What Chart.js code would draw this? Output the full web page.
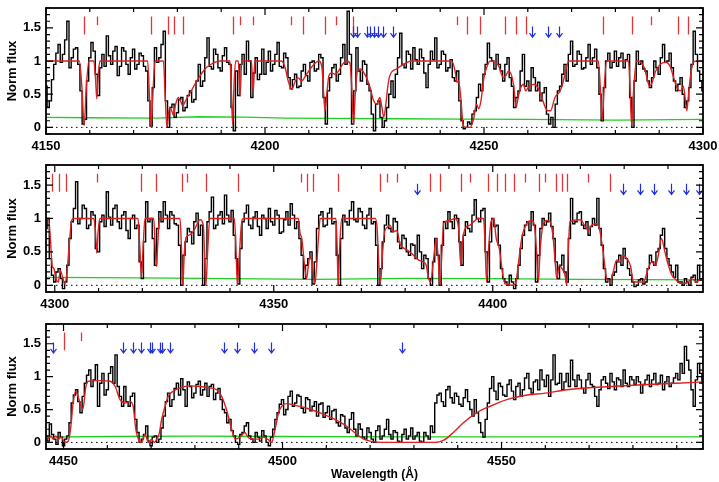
<!DOCTYPE html>
<html>
<head>
<meta charset="utf-8">
<script src="https://cdn.jsdelivr.net/npm/chart.js@4.4.1/dist/chart.umd.min.js"></script>
<style>
body { margin: 0; background: #fff; }
#wrap { position: relative; width: 719px; height: 482px; background: #fff; }
canvas { position: absolute; left: 0; }
</style>
</head>
<body>
<div id="wrap">
  <canvas id="p1" width="719" height="160" style="top:0px"></canvas>
  <canvas id="p2" width="719" height="160" style="top:160px"></canvas>
  <canvas id="p3" width="719" height="162" style="top:320px"></canvas>
</div>
<script>
// observed flux, one value per 0.5 A pixel, starting at waveStartN
var waveStep = 0.5;
var waveStart1 = 4150, waveStart2 = 4298, waveStart3 = 4446;
var flux1 = [
  0.62, 0.30, 0.40, 0.72, 0.95, 1.12, 1.25, 0.98, 1.10, 1.32,
  1.60, 0.90, 1.05, 1.18, 1.20, 0.95, 0.55, 0.05, 0.12, 0.70,
  1.05, 1.28, 1.15, 0.80, 0.48, 0.90, 1.10, 0.92, 1.38, 1.08,
  0.95, 1.15, 1.22, 0.78, 0.92, 1.20, 1.15, 0.95, 0.80, 1.05,
  1.18, 0.88, 0.95, 1.12, 1.08, 0.92, 0.85, 0.40, 0.02, 0.60,
  1.20, 0.98, 1.05, 1.25, 1.45, 0.40, 0.00, 0.30, 0.35, 0.15,
  0.22, 0.42, 0.45, 0.25, 0.30, 0.48, 0.55, 0.38, 0.42, 0.70,
  0.95, 0.62, 0.70, 1.05, 1.35, 0.92, 0.88, 1.18, 1.10, 0.90,
  0.85, 1.08, 1.20, 0.98, 0.95, 0.30, -0.05, 0.85, 0.48, 0.95,
  1.10, 0.80, 1.30, 1.00, 0.45, 0.82, 1.05, 0.72, 0.80, 1.18,
  0.80, 0.98, 1.15, 0.85, 0.95, 1.10, 1.28, 0.92, 0.90, 1.12,
  1.05, 0.75, 0.58, 0.72, 0.80, 0.60, 0.62, 0.85, 0.95, 0.78,
  0.70, 0.98, 1.00, 0.85, 0.88, 1.10, 1.05, 0.45, 0.05, 0.55,
  0.75, 0.90, 0.95, 0.70, 0.80, 1.05, 1.25, 0.95, 1.75, 1.10,
  0.05, 0.55, 1.20, 0.85, 0.70, 1.00, 0.95, 0.65, 0.55, 0.20,
  -0.05, 0.35, 0.40, 0.15, 0.00, 0.10, 0.30, 0.50, 0.70, 0.45,
  0.80, 1.05, 1.42, 0.95, 0.90, 1.15, 1.10, 0.88, 1.20, 1.02,
  0.95, 1.18, 1.05, 0.82, 0.60, 0.95, 1.15, 1.02, 1.35, 0.90,
  0.95, 1.15, 1.10, 0.85, 0.90, 1.02, 0.75, 0.70, 0.85, 0.40,
  0.10, -0.02, 0.00, 0.08, 0.05, 0.20, 0.25, 0.45, 0.65, 0.55,
  0.80, 0.95, 1.27, 1.05, 1.00, 0.88, 1.10, 0.95, 0.85, 0.70,
  0.95, 1.05, 0.75, 0.62, 0.30, 0.45, 0.55, 0.85, 1.10, 0.62,
  0.70, 0.55, 0.90, 0.75, 0.55, 0.68, 0.40, 0.52, 0.60, 0.20,
  0.05, 0.15, 0.00, 0.35, 0.55, 0.62, 0.80, 0.95, 0.70, 1.10,
  1.30, 0.92, 0.95, 1.15, 1.10, 0.88, 0.90, 1.05, 1.25, 0.95,
  1.05, 1.18, 0.90, 0.50, 0.10, 0.60, 1.00, 1.12, 0.90, 0.98,
  1.15, 0.92, 1.05, 1.12, 0.90, 1.02, 1.10, 0.45, 0.00, 0.70,
  1.15, 0.95, 1.00, 0.88, 0.85, 0.70, 0.60, 0.75, 1.00, 0.90,
  0.80, 1.05, 1.25, 0.98, 1.00, 1.12, 0.90, 0.70, 0.55, 0.65,
  0.75, 0.50, 0.30, 0.40, 0.60, 0.95, 1.45, 1.10, 0.85, 0.70,
  0.55
];
var flux2 = [
  0.85, 1.00, 0.40, 0.15, 0.05, 0.20, 0.25, 0.10, -0.05, 0.05,
  0.30, 0.70, 0.95, 1.15, 1.55, 0.92, 1.00, 1.20, 1.15, 0.85,
  0.90, 1.10, 1.05, 0.55, 0.50, 0.95, 1.05, 0.88, 1.40, 1.02,
  0.90, 1.15, 1.20, 0.95, 0.85, 1.05, 1.10, 0.82, 0.70, 1.00,
  1.05, 0.85, 0.90, 0.35, 0.10, 0.65, 1.25, 0.95, 1.00, 0.70,
  0.30, 0.85, 1.10, 0.95, 1.25, 1.05, 0.85, 1.10, 1.05, 0.92,
  0.90, 0.60, 0.00, 0.45, 0.65, 0.85, 0.80, 0.62, 0.95, 1.08,
  0.75, 0.90, 0.00, 0.40, 0.95, 1.10, 1.32, 0.85, 0.90, 1.05,
  1.10, 0.92, 1.35, 1.05, 0.95, 1.12, 0.75, 0.40, 0.02, 0.55,
  0.95, 1.08, 1.20, 0.90, 0.85, 1.02, 1.10, 0.88, 0.75, 1.05,
  1.00, 0.85, 1.15, 0.95, 0.90, 1.12, 1.05, 0.78, 0.80, 0.98,
  1.10, 0.90, 1.22, 1.05, 0.85, 0.95, 0.70, 0.45, 0.10, 0.30,
  0.40, 0.50, 0.02, 0.35, 0.85, 1.05, 1.10, 0.88, 0.90, 1.08,
  1.15, 0.92, 0.95, 0.45, 0.00, 0.70, 1.05, 0.95, 0.90, 1.12,
  1.25, 0.98, 0.95, 1.15, 1.10, 0.90, 0.85, 1.05, 1.15, 0.92,
  0.95, 0.60, 0.00, 0.25, 0.65, 0.90, 1.05, 0.85, 0.80, 1.00,
  0.95, 0.65, 0.55, 0.75, 0.70, 0.50, 0.45, 0.62, 0.60, 0.40,
  0.75, 0.50, 0.25, 0.45, 0.40, 0.10, 0.00, 0.35, 0.70, 0.45,
  0.00, 0.60, 0.95, 0.85, 1.10, 0.95, 0.85, 1.05, 1.00, 0.65,
  0.30, 0.75, 0.95, 0.85, 0.80, 1.05, 1.28, 1.00, 0.95, 1.12,
  1.15, 0.50, 0.05, 0.65, 1.00, 0.88, 0.90, 0.60, 0.25, 0.10,
  0.05, 0.00, 0.15, 0.05, -0.05, 0.10, 0.30, 0.55, 0.75, 0.90,
  0.95, 0.82, 1.10, 0.90, 0.05, 0.45, 0.85, 1.00, 0.90, 0.95,
  1.08, 0.88, 0.70, 0.35, 0.10, 0.30, 0.45, 0.20, 0.05, 0.70,
  1.30, 0.92, 0.95, 1.08, 1.10, 0.90, 0.85, 0.95, 0.75, 0.88,
  1.00, 0.90, 1.30, 0.85, 0.60, 0.25, 0.05, 0.10, 0.00, 0.15,
  0.20, 0.35, 0.45, 0.30, 0.55, 0.40, 0.25, 0.15, 0.05, -0.02,
  0.00, 0.08, 0.10, 0.02, 0.05, 0.25, 0.45, 0.35, 0.30, 0.50,
  0.55, 0.75, 0.85, 0.55, 0.40, 0.30, 0.20, 0.12, 0.30, 0.05,
  0.05, 0.00, 0.10, 0.05, 0.00, 0.12, 0.15, 0.05, 0.30, 0.08,
  0.10
];
var flux3 = [
  0.10, 0.02, 0.28, 0.12, 0.05, -0.03, 0.15, 0.08, -0.05, 0.05,
  0.10, 0.30, 0.60, 0.72, 0.80, 0.62, 0.45, 0.70, 0.90, 1.02,
  1.10, 0.85, 0.95, 1.18, 0.55, 0.90, 1.05, 0.72, 0.80, 1.05,
  1.15, 0.90, 1.33, 0.85, 0.70, 0.55, 0.85, 0.62, 0.55, 0.70,
  0.75, 0.35, 0.15, 0.00, 0.05, 0.12, 0.25, 0.02, -0.05, 0.08,
  0.10, 0.00, 0.05, 0.22, 0.40, 0.62, 0.75, 0.55, 0.65, 0.82,
  0.90, 0.72, 0.97, 0.80, 0.55, 0.92, 0.85, 0.68, 0.75, 0.88,
  0.93, 0.72, 0.80, 0.90, 0.70, 0.85, 0.88, 0.65, 0.75, 0.82,
  0.65, 0.50, 0.45, 0.30, 0.35, 0.18, 0.10, 0.00, -0.03, 0.12,
  0.15, 0.25, 0.30, 0.10, 0.05, 0.00, 0.15, 0.08, 0.02, 0.18,
  0.10, 0.00, -0.05, 0.08, 0.20, 0.35, 0.45, 0.58, 0.65, 0.42,
  0.50, 0.70, 0.78, 0.55, 0.60, 0.72, 0.70, 0.52, 0.45, 0.68,
  0.65, 0.48, 0.55, 0.62, 0.40, 0.58, 0.60, 0.38, 0.45, 0.55,
  0.35, 0.48, 0.50, 0.30, 0.25, 0.42, 0.40, 0.22, 0.15, 0.35,
  0.45, 0.20, 0.10, 0.28, 0.20, 0.08, 0.05, 0.22, 0.15, 0.05,
  0.00, 0.18, 0.25, 0.05, 0.10, 0.20, 0.35, 0.12, 0.05, 0.18,
  0.15, 0.02, 0.00, 0.12, 0.20, 0.05, 0.10, 0.22, 0.05, 0.10,
  0.15, 0.02, 0.00, 0.15, 0.10, 0.05, 0.25, 0.15, 0.60, 0.72,
  0.75, 0.62, 0.55, 0.80, 0.85, 0.68, 0.60, 0.75, 0.70, 0.58,
  0.55, 0.68, 0.80, 0.62, 0.50, 0.40, 0.65, 0.45, 0.30, 0.15,
  0.08, 0.35, 0.60, 0.82, 1.00, 0.78, 0.65, 0.90, 0.85, 0.72,
  0.70, 0.88, 0.95, 0.78, 0.65, 0.85, 0.90, 0.70, 0.80, 0.98,
  1.05, 0.82, 0.75, 0.92, 0.95, 0.80, 1.10, 0.95, 0.85, 1.02,
  0.70, 0.95, 1.33, 0.88, 0.90, 1.05, 0.80, 0.92, 1.05, 0.85,
  1.25, 0.95, 0.85, 1.02, 0.95, 0.82, 0.75, 0.95, 1.05, 0.88,
  0.85, 0.70, 0.55, 0.80, 0.95, 1.00, 0.90, 0.82, 1.05, 0.92,
  0.80, 0.98, 0.95, 0.85, 1.10, 0.90, 0.85, 1.00, 0.95, 0.88,
  1.00, 0.92, 0.75, 0.88, 0.95, 1.02, 0.85, 0.95, 1.05, 0.88,
  0.90, 1.02, 0.80, 0.92, 1.00, 0.85, 0.90, 0.98, 1.05, 0.95,
  1.20, 1.05, 1.46, 1.25, 1.10, 0.80, 0.55, 0.95, 1.20, 1.05,
  0.90
];

// fitted model [wavelength, flux]
var model1 = [
  [4150, 1.0], [4157.6, 1.0], [4158.2, 0.6], [4158.7, 0.03], [4159.2, 0.6], [4159.8, 1.0],
  [4160.9, 1.0], [4161.3, 0.75], [4161.6, 0.43], [4161.9, 0.75], [4162.3, 1.0],
  [4173.2, 1.0], [4173.6, 0.5], [4174.0, 0.0], [4174.4, 0.5], [4174.9, 1.0],
  [4176.8, 1.0], [4177.2, 0.5], [4177.6, 0.0], [4178.2, 0.3], [4178.7, 0.25], [4179.1, 0.18],
  [4179.6, 0.35], [4180.2, 0.45], [4180.7, 0.4], [4181.2, 0.33], [4182.0, 0.42], [4182.9, 0.52],
  [4184.0, 0.65], [4185.2, 0.78], [4186.3, 0.88], [4187.4, 0.94], [4188.5, 0.98], [4189.7, 1.0],
  [4192.0, 1.0], [4192.3, 0.6], [4192.6, 0.05], [4192.9, 0.6], [4193.3, 1.0],
  [4193.9, 1.0], [4194.3, 0.47], [4194.7, 1.0], [4196.9, 1.0], [4197.3, 0.53], [4197.7, 1.0],
  [4203.8, 1.0], [4204.6, 0.9], [4205.3, 0.7], [4206.1, 0.57], [4206.8, 0.68], [4207.5, 0.75],
  [4208.4, 0.7], [4209.3, 0.78], [4210.3, 0.88], [4211.3, 0.96], [4212.3, 1.0],
  [4213.0, 0.9], [4213.4, 0.5], [4213.7, 0.25], [4214.1, 0.5], [4214.6, 0.78], [4215.2, 0.82],
  [4216.0, 0.8], [4216.8, 0.85], [4217.7, 0.95], [4218.6, 1.0], [4219.4, 0.97], [4219.8, 0.6],
  [4220.2, 0.05], [4220.6, 0.5], [4221.1, 0.85], [4221.7, 0.88], [4222.8, 0.8], [4224.0, 0.6],
  [4224.7, 0.42], [4225.5, 0.35], [4226.2, 0.45], [4226.7, 0.3], [4227.1, 0.15], [4227.6, 0.35],
  [4228.0, 0.6], [4228.5, 0.78], [4230.0, 0.88], [4231.6, 0.95], [4233.5, 1.0],
  [4242.6, 1.0], [4243.4, 0.85], [4243.8, 0.68], [4244.2, 0.7], [4244.7, 0.45], [4245.2, 0.05],
  [4245.7, 0.0], [4246.8, 0.0], [4247.6, 0.12], [4248.3, 0.35], [4248.8, 0.28], [4249.3, 0.4],
  [4250.0, 0.75], [4250.7, 0.92], [4251.4, 1.0], [4252.8, 0.97], [4253.4, 0.92], [4254.4, 0.75],
  [4255.0, 0.78], [4255.6, 0.85], [4256.3, 0.78], [4256.8, 0.62], [4257.3, 0.3], [4257.8, 0.45],
  [4258.4, 0.6], [4259.0, 0.65], [4259.5, 0.55], [4260.1, 0.6], [4261.0, 0.64], [4261.6, 0.65],
  [4262.4, 0.58], [4263.2, 0.45], [4264.0, 0.3], [4264.5, 0.25], [4265.2, 0.25], [4266.2, 0.45],
  [4267.4, 0.55], [4268.2, 0.72], [4268.8, 0.9], [4269.4, 1.0],
  [4276.1, 1.0], [4276.6, 0.55], [4277.0, 0.1], [4277.4, 0.55], [4278.0, 1.0],
  [4283.0, 1.0], [4283.4, 0.5], [4283.7, 0.03], [4284.1, 0.5], [4284.8, 1.0],
  [4285.8, 0.98], [4286.6, 0.9], [4287.3, 0.72], [4287.8, 0.62], [4288.4, 0.68], [4289.2, 0.85],
  [4290.4, 0.96], [4291.6, 0.98], [4292.5, 0.92], [4293.3, 0.75], [4294.2, 0.58], [4294.9, 0.55],
  [4295.5, 0.62], [4295.9, 0.45], [4296.3, 0.25], [4296.7, 0.5], [4297.2, 0.8], [4297.8, 0.98],
  [4298.5, 1.0], [4300, 1.0]
];
var model2 = [
  [4298.0, 1.0], [4298.6, 1.0], [4299.0, 0.7], [4299.4, 0.3], [4299.8, 0.25], [4300.3, 0.1],
  [4300.8, 0.05], [4301.3, 0.22], [4301.8, 0.12], [4302.3, 0.02], [4302.8, 0.2], [4303.3, 0.6],
  [4303.8, 0.95], [4304.3, 1.0],
  [4308.9, 1.0], [4309.3, 0.8], [4309.6, 0.48], [4309.9, 0.8], [4310.3, 1.0],
  [4319.0, 1.0], [4319.4, 0.6], [4319.8, 0.12], [4320.2, 0.6], [4320.6, 1.0],
  [4322.6, 1.0], [4322.9, 0.6], [4323.2, 0.28], [4323.5, 0.6], [4323.9, 1.0],
  [4328.6, 1.0], [4328.9, 0.6], [4329.2, 0.0], [4329.6, 0.5], [4330.0, 0.72], [4331.0, 0.76],
  [4332.0, 0.85], [4333.2, 0.98], [4333.9, 0.9], [4334.2, 0.5], [4334.5, 0.0], [4334.9, 0.5],
  [4335.4, 1.0],
  [4341.0, 1.0], [4341.4, 0.5], [4341.7, 0.0], [4342.1, 0.4], [4342.6, 0.9], [4343.0, 1.0],
  [4355.6, 1.0], [4356.0, 0.78], [4356.4, 0.7], [4356.8, 0.45], [4357.1, 0.25], [4357.5, 0.1],
  [4357.9, 0.3], [4358.3, 0.45], [4358.7, 0.35], [4359.0, 0.2], [4359.4, 0.02], [4359.8, 0.3],
  [4360.2, 0.7], [4360.6, 1.0],
  [4364.2, 1.0], [4364.5, 0.5], [4364.7, 0.0], [4365.0, 0.5], [4365.5, 1.0],
  [4373.2, 1.0], [4373.6, 0.85], [4374.0, 0.3], [4374.4, 0.05], [4374.8, 0.45], [4375.3, 0.8],
  [4375.8, 0.86], [4376.5, 0.9], [4377.3, 0.8], [4378.1, 0.82], [4378.8, 0.62], [4379.6, 0.56],
  [4380.7, 0.52], [4381.9, 0.45], [4383.0, 0.38], [4384.1, 0.35], [4384.8, 0.3], [4385.3, 0.12],
  [4385.8, 0.05], [4386.5, 0.4], [4387.1, 0.7], [4387.5, 0.45], [4388.0, 0.0], [4388.4, 0.5],
  [4388.8, 0.93], [4390.2, 0.97], [4391.4, 1.0], [4392.2, 0.85], [4392.7, 0.3], [4393.2, 0.7],
  [4393.7, 0.85], [4394.8, 0.9], [4396.7, 1.0], [4397.9, 1.0], [4398.3, 0.5], [4398.6, 0.05],
  [4399.0, 0.5], [4399.6, 0.95], [4400.2, 1.0], [4400.8, 0.7], [4401.5, 0.55], [4402.2, 0.2],
  [4402.8, 0.02], [4404.5, 0.0], [4405.3, 0.05], [4405.8, 0.3], [4406.6, 0.7], [4407.7, 0.92],
  [4408.9, 0.97], [4409.6, 0.85], [4410.0, 0.5], [4410.4, 0.05], [4410.8, 0.5], [4411.2, 0.8],
  [4412.3, 0.97], [4413.1, 0.95], [4413.8, 0.7], [4414.3, 0.3], [4414.6, 0.1], [4415.2, 0.3],
  [4415.8, 0.25], [4416.5, 0.15], [4416.9, 0.0], [4417.3, 0.6], [4417.6, 0.95], [4420.0, 0.98],
  [4421.1, 0.88], [4421.8, 0.82], [4422.6, 0.9], [4423.7, 0.92], [4424.5, 0.8], [4425.2, 0.5],
  [4426.0, 0.1], [4426.8, 0.05], [4427.5, 0.2], [4428.3, 0.38], [4429.0, 0.35], [4429.8, 0.45],
  [4430.6, 0.4], [4431.5, 0.28], [4432.1, 0.05], [4434.4, 0.05], [4435.5, 0.25], [4436.3, 0.35],
  [4437.1, 0.3], [4437.8, 0.45], [4438.5, 0.7], [4439.3, 0.5], [4440.1, 0.3], [4440.9, 0.15],
  [4441.6, 0.1], [4442.7, 0.03], [4444.3, 0.03], [4445.4, 0.1], [4446.6, 0.05], [4447.3, 0.1],
  [4448.0, 0.08]
];
var model3 = [
  [4446.0, 0.1], [4446.6, 0.06], [4447.1, 0.1], [4447.6, 0.05], [4448.2, 0.1], [4448.8, 0.05],
  [4449.5, 0.08], [4450.3, 0.0], [4451.1, 0.02], [4451.6, 0.2], [4452.2, 0.6], [4452.8, 0.78],
  [4453.3, 0.7], [4453.8, 0.6], [4454.4, 0.5], [4455.1, 0.85], [4455.7, 0.93], [4458.3, 0.94],
  [4460.6, 0.93], [4461.8, 0.85], [4462.9, 0.65], [4464.0, 0.6], [4465.2, 0.62], [4465.9, 0.55],
  [4466.5, 0.2], [4467.1, 0.05], [4467.8, 0.0], [4468.6, 0.12], [4469.4, 0.0], [4470.1, 0.05],
  [4470.7, 0.0], [4471.3, 0.05], [4471.9, 0.15], [4472.4, 0.35], [4473.2, 0.55], [4473.9, 0.7],
  [4475.1, 0.78], [4476.6, 0.83], [4478.9, 0.86], [4481.2, 0.85], [4483.4, 0.83], [4485.0, 0.8],
  [4486.1, 0.7], [4487.2, 0.5], [4488.4, 0.2], [4489.2, 0.05], [4490.3, 0.08], [4491.4, 0.15],
  [4492.2, 0.07], [4493.3, 0.05], [4494.5, 0.05], [4495.6, 0.08], [4496.8, 0.04], [4497.5, 0.0],
  [4498.3, 0.2], [4499.1, 0.45], [4499.8, 0.55], [4501.0, 0.59], [4502.5, 0.57], [4505.5, 0.52],
  [4508.6, 0.45], [4511.6, 0.36], [4514.6, 0.25], [4517.0, 0.12], [4518.5, 0.05], [4520.0, 0.02],
  [4523.0, 0.0], [4534.8, 0.0], [4536.7, 0.03], [4539.0, 0.15], [4541.3, 0.3], [4544.3, 0.45],
  [4547.4, 0.55], [4551.2, 0.65], [4555.0, 0.71], [4560.0, 0.75], [4565.0, 0.8], [4570.0, 0.83],
  [4580.0, 0.87], [4590.0, 0.9], [4596.0, 0.92]
];

// error spectrum [wavelength, sigma]
var err1 = [[4150, 0.15], [4160, 0.145], [4175, 0.14], [4185, 0.16], [4195, 0.155], [4205, 0.14],
  [4215, 0.135], [4230, 0.13], [4245, 0.125], [4260, 0.12], [4280, 0.11], [4300, 0.12]];
var err2 = [[4298, 0.12], [4320, 0.11], [4340, 0.10], [4360, 0.09], [4380, 0.105], [4400, 0.10],
  [4420, 0.09], [4448, 0.08]];
var err3 = [[4446, 0.08], [4460, 0.09], [4480, 0.095], [4500, 0.09], [4530, 0.085], [4560, 0.085],
  [4596, 0.085]];

// line identifications (red ticks) and blue arrows
var lines1 = [4158.75, 4174.05, 4177.85, 4179.15, 4181.3, 4192.7, 4208.6, 4213.8, 4220.2, 4246.2,
  4249.1, 4254.7, 4257.2, 4259.5, 4277.1, 4283.7, 4294.2, 4296.6];
var weakLines1 = [4161.6, 4194.4, 4197.3, 4205.9, 4216.1, 4243.8, 4288.1];
var arrows1 = [4220.2, 4221.1, 4223.2, 4224.0, 4224.9, 4225.9, 4227.0, 4229.2, 4260.9, 4264.5, 4267.2];
var lines2 = [4299.4, 4301.0, 4302.6, 4319.7, 4323.1, 4329.0, 4334.5, 4341.8, 4357.5, 4359.0, 4364.7,
  4374.3, 4385.7, 4388.0, 4392.7, 4398.8, 4400.9, 4402.8, 4404.9, 4410.6, 4414.4, 4415.7, 4416.9, 4426.7];
var weakLines2 = [4309.6, 4330.3, 4356.2, 4375.9, 4378.2, 4394.7, 4407.3, 4411.9, 4421.8];
var arrows2 = [4382.8, 4429.8, 4433.6, 4436.8, 4440.6, 4444.2, 4447.1];
var lines3 = [4450.2];
var weakLines3 = [4454.0];
var arrows3 = [4447.5, 4463.5, 4465.9, 4467.8, 4469.7, 4470.2, 4472.0, 4472.4, 4474.2, 4486.7,
  4489.7, 4493.6, 4497.3, 4527.3];

var xTicks1 = [4150, 4200, 4250, 4300];
var xTicks2 = [4300, 4350, 4400];
var xTicks3 = [4450, 4500, 4550];
var yTicks = [0, 0.5, 1, 1.5];

var FONT = 'Liberation Sans, Arial, Helvetica, sans-serif';

var framePlugin = {
  id: 'frame',
  afterDatasetsDraw: function(chart, args, opts) {
    var ctx = chart.ctx, a = chart.chartArea;
    var x = chart.scales.x, y = chart.scales.y;
    ctx.save();
    ctx.beginPath();
    ctx.rect(a.left, a.top, a.right - a.left, a.bottom - a.top);
    ctx.clip();

    // line ids
    ctx.strokeStyle = '#e0363b';
    ctx.lineWidth = 1.3;
    ctx.beginPath();
    opts.lines.forEach(function(w) {
      var px = Math.round(x.getPixelForValue(w)) + 0.5;
      ctx.moveTo(px, y.getPixelForValue(1.67));
      ctx.lineTo(px, y.getPixelForValue(1.40));
    });
    opts.weak.forEach(function(w) {
      var px = Math.round(x.getPixelForValue(w)) + 0.5;
      ctx.moveTo(px, y.getPixelForValue(1.67));
      ctx.lineTo(px, y.getPixelForValue(1.54));
    });
    ctx.stroke();

    // arrows
    ctx.strokeStyle = '#2030e0';
    ctx.lineWidth = 1.2;
    ctx.beginPath();
    opts.arrows.forEach(function(w) {
      var px = Math.round(x.getPixelForValue(w)) + 0.5;
      var y0 = y.getPixelForValue(1.52), y1 = y.getPixelForValue(1.36);
      ctx.moveTo(px, y0);
      ctx.lineTo(px, y1);
      ctx.moveTo(px - 3, y1 - 4);
      ctx.lineTo(px, y1);
      ctx.lineTo(px + 3, y1 - 4);
    });
    ctx.stroke();
    ctx.restore();

    // frame and inward ticks
    ctx.save();
    ctx.strokeStyle = '#000';
    ctx.lineWidth = 1.8;
    ctx.strokeRect(a.left, a.top, a.right - a.left, a.bottom - a.top);
    ctx.lineWidth = 1.2;
    ctx.beginPath();
    for (var v = Math.ceil(x.min / 10) * 10; v <= x.max; v += 10) {
      var px = x.getPixelForValue(v);
      var len = (v % 50 === 0) ? 7 : 4;
      ctx.moveTo(px, a.bottom); ctx.lineTo(px, a.bottom - len);
      ctx.moveTo(px, a.top); ctx.lineTo(px, a.top + len);
    }
    for (var k = -1; k <= 18; k++) {
      var yv = k / 10;
      if (yv < y.min || yv > y.max) continue;
      var py = y.getPixelForValue(yv);
      var l2 = (k % 5 === 0) ? 7 : 4;
      ctx.moveTo(a.left, py); ctx.lineTo(a.left + l2, py);
      ctx.moveTo(a.right, py); ctx.lineTo(a.right - l2, py);
    }
    ctx.stroke();
    ctx.restore();
  }
};

function makePanel(id, o) {
  var black = o.flux.map(function(f, i) { return { x: o.start + i * waveStep, y: f }; });
  var red = o.model.map(function(p) { return { x: p[0], y: p[1] }; });
  var green = o.err.map(function(p) { return { x: p[0], y: p[1] }; });
  new Chart(document.getElementById(id), {
    type: 'line',
    data: {
      datasets: [
        { data: red, borderColor: '#dc2020', borderWidth: 1.4, cubicInterpolationMode: 'monotone', order: 0 },
        { data: black, borderColor: '#000', borderWidth: 1.4, stepped: 'middle', order: 1 },
        { data: green, borderColor: '#20d020', borderWidth: 1.3, order: 2 },
        { data: [{ x: o.min, y: 0 }, { x: o.max, y: 0 }], borderColor: '#000', borderWidth: 1,
          borderDash: [1.5, 3.5], order: 3 }
      ]
    },
    options: {
      responsive: false,
      animation: false,
      devicePixelRatio: 1,
      elements: { point: { radius: 0 }, line: { fill: false } },
      layout: { autoPadding: false, padding: { top: o.top, right: 16, left: 0, bottom: 0 } },
      plugins: {
        legend: { display: false },
        tooltip: { enabled: false },
        frame: { lines: o.lines, weak: o.weak, arrows: o.arrows }
      },
      scales: {
        x: {
          type: 'linear', min: o.min, max: o.max,
          grid: { display: false, drawTicks: false }, border: { display: false },
          afterBuildTicks: function(s) { s.ticks = o.xTicks.map(function(v) { return { value: v }; }); },
          afterFit: function(s) { s.height = o.xh; s.paddingLeft = 0; s.paddingRight = 0; },
          ticks: {
            autoSkip: false, maxRotation: 0, color: '#000', padding: 5,
            font: { family: FONT, size: 13, weight: 'bold' },
            callback: function(v) { return String(v); }
          },
          title: {
            display: !!o.xTitle, text: o.xTitle || '', color: '#000',
            font: { family: FONT, size: 12, weight: 'bold' },
            padding: { top: -2, bottom: 0 }
          }
        },
        y: {
          min: -0.1, max: 1.8,
          grid: { display: false, drawTicks: false }, border: { display: false },
          afterBuildTicks: function(s) { s.ticks = yTicks.map(function(v) { return { value: v }; }); },
          afterFit: function(s) { s.width = 46; s.paddingTop = 0; s.paddingBottom = 0; },
          ticks: {
            color: '#000', padding: 5,
            font: { family: FONT, size: 13, weight: 'bold' },
            callback: function(v) { return String(Math.round(v * 10) / 10); }
          },
          title: {
            display: true, text: 'Norm flux', color: '#000',
            font: { family: FONT, size: 13, weight: 'bold' },
            padding: { top: 5, bottom: 4 }
          }
        }
      }
    },
    plugins: [framePlugin]
  });
}

makePanel('p1', { flux: flux1, start: waveStart1, model: model1, err: err1, lines: lines1, weak: weakLines1,
  arrows: arrows1, xTicks: xTicks1, min: 4150, max: 4300, top: 8, xh: 26 });
makePanel('p2', { flux: flux2, start: waveStart2, model: model2, err: err2, lines: lines2, weak: weakLines2,
  arrows: arrows2, xTicks: xTicks2, min: 4298, max: 4448, top: 5, xh: 28 });
makePanel('p3', { flux: flux3, start: waveStart3, model: model3, err: err3, lines: lines3, weak: weakLines3,
  arrows: arrows3, xTicks: xTicks3, min: 4446, max: 4596, top: 4, xh: 33, xTitle: 'Wavelength (\u00c5)' });
</script>
</body>
</html>
